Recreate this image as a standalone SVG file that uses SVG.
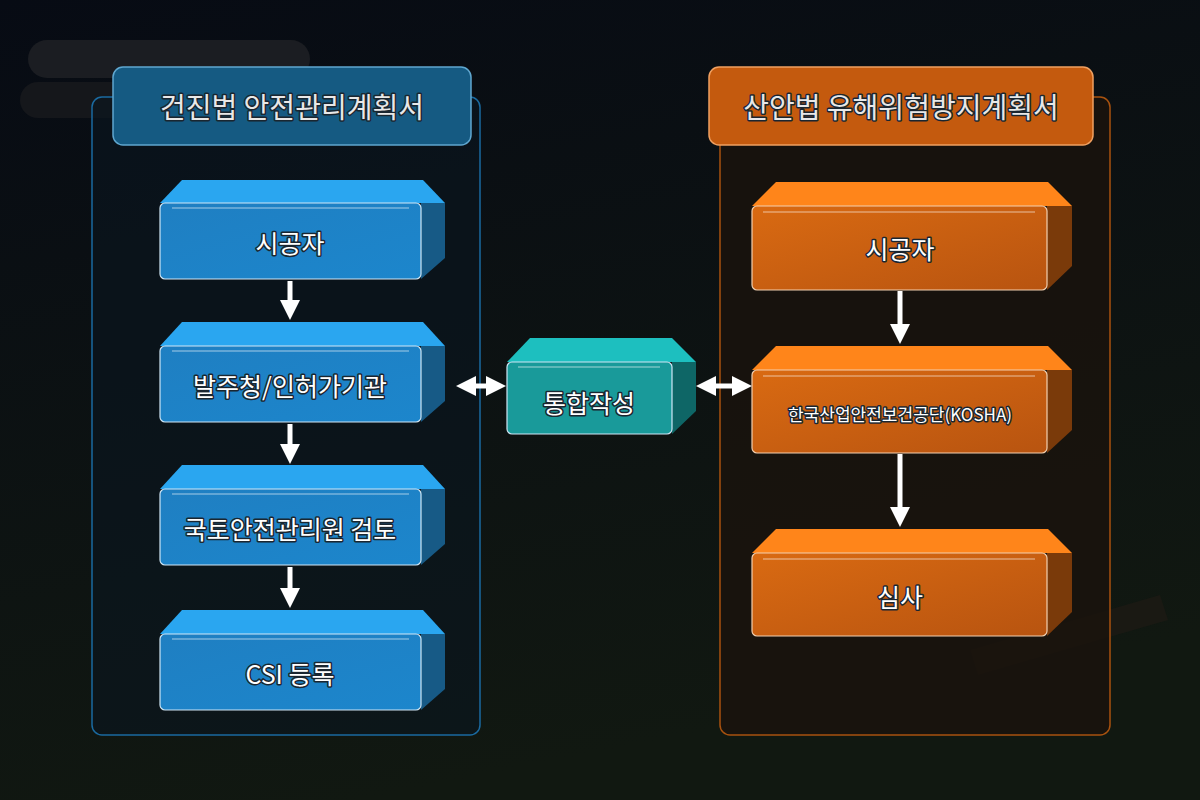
<svg xmlns="http://www.w3.org/2000/svg" width="1200" height="800" viewBox="0 0 1200 800">
<defs>
<linearGradient id="bg" x1="0" y1="0" x2="0.3" y2="1"><stop offset="0" stop-color="#070b14"/><stop offset="1" stop-color="#111811"/></linearGradient>
<linearGradient id="bf" x1="0" y1="0" x2="1" y2="1"><stop offset="0" stop-color="#1f7fc2"/><stop offset="1" stop-color="#1c86cc"/></linearGradient>
<linearGradient id="of" x1="0" y1="0" x2="1" y2="1"><stop offset="0" stop-color="#d96a12"/><stop offset="1" stop-color="#b85410"/></linearGradient>
<marker id="ah" markerWidth="4" markerHeight="4" refX="2" refY="2" orient="auto-start-reverse" markerUnits="strokeWidth"><path d="M0,0 L4,2 L0,4 Z" fill="#fff"/></marker>
</defs>
<style>
text{font-family:"Noto Sans CJK KR","Noto Sans",sans-serif;fill:#fff;text-anchor:middle;dominant-baseline:central;paint-order:stroke;stroke:#1a2630;stroke-width:3px;stroke-linejoin:round}
.hd{font-size:28px;fill:#e8e8e8}
.nd{font-size:25px}
.sm{font-size:17px}
.fr{stroke:#cfe6f5;stroke-width:1.2}
.btop{fill:#2aa6f0}.bside{fill:#175a86}
.otop{fill:#ff851a}.oside{fill:#7a3a0a}
.ttop{fill:#1dbfbf}.tside{fill:#0e6666}
.ln{stroke:#ffffff;stroke-width:1.2;opacity:0.6}
.con{stroke:#fff;stroke-width:5;fill:none}
</style>
<rect width="1200" height="800" fill="url(#bg)"/>
<rect x="28" y="40" width="282" height="38" rx="19" fill="#1b1d22"/>
<rect x="20" y="82" width="290" height="36" rx="18" fill="#15171b"/>
<polygon points="970,650 1160,595 1168,620 978,675" fill="#1d1a14" opacity="0.8"/>
<g id="panel-left">
<rect x="92" y="97" width="388" height="638" rx="10" fill="#0a1520" fill-opacity="0.6" stroke="#1a6aa0" stroke-width="1.5"/>
<rect x="113" y="67" width="358" height="78" rx="10" fill="#155a82" stroke="#5fa7d0" stroke-width="1.5"/>
<text class="hd" x="292" y="106">건진법 안전관리계획서</text>
</g>
<g id="panel-right">
<rect x="720" y="97" width="390" height="638" rx="10" fill="#1a130c" fill-opacity="0.8" stroke="#a8520f" stroke-width="1.5"/>
<rect x="709" y="67" width="384" height="78" rx="10" fill="#c45a0e" stroke="#f0a060" stroke-width="1.5"/>
<text class="hd" x="901" y="106">산안법 유해위험방지계획서</text>
</g>
<g id="connectors">
<line class="con" x1="290" y1="281" x2="290" y2="310" marker-end="url(#ah)"/>
<line class="con" x1="290" y1="424" x2="290" y2="454" marker-end="url(#ah)"/>
<line class="con" x1="290" y1="567" x2="290" y2="598" marker-end="url(#ah)"/>
<line class="con" x1="900" y1="291" x2="900" y2="334" marker-end="url(#ah)"/>
<line class="con" x1="900" y1="454" x2="900" y2="517" marker-end="url(#ah)"/>
<line class="con" x1="466" y1="386" x2="496" y2="386" marker-start="url(#ah)" marker-end="url(#ah)"/>
<line class="con" x1="706" y1="386" x2="742" y2="386" marker-start="url(#ah)" marker-end="url(#ah)"/>
</g>
<g id="n1">
<polygon class="btop" points="160,203 182,180 423,180 445,203 421,203"/>
<polygon class="bside" points="421,203 445,203 445,258 421,279"/>
<rect class="fr" x="160" y="203" width="261" height="76" rx="5" fill="url(#bf)"/>
<line class="ln" x1="172" y1="208" x2="409" y2="208"/>
<text class="nd" x="290" y="242">시공자</text>
</g>
<g id="n2">
<polygon class="btop" points="160,346 182,322 423,322 445,346 421,346"/>
<polygon class="bside" points="421,346 445,346 445,401 421,422"/>
<rect class="fr" x="160" y="346" width="261" height="76" rx="5" fill="url(#bf)"/>
<line class="ln" x1="172" y1="351" x2="409" y2="351"/>
<text class="nd" x="290" y="385">발주청/인허가기관</text>
</g>
<g id="n3">
<polygon class="btop" points="160,489 182,465 423,465 445,489 421,489"/>
<polygon class="bside" points="421,489 445,489 445,544 421,565"/>
<rect class="fr" x="160" y="489" width="261" height="76" rx="5" fill="url(#bf)"/>
<line class="ln" x1="172" y1="494" x2="409" y2="494"/>
<text class="nd" x="290" y="528">국토안전관리원 검토</text>
</g>
<g id="n4">
<polygon class="btop" points="160,634 182,610 423,610 445,634 421,634"/>
<polygon class="bside" points="421,634 445,634 445,689 421,710"/>
<rect class="fr" x="160" y="634" width="261" height="76" rx="5" fill="url(#bf)"/>
<line class="ln" x1="172" y1="639" x2="409" y2="639"/>
<text class="nd" x="290" y="673">CSI 등록</text>
</g>
<g id="mid">
<polygon class="ttop" points="507,362 530,338 672,338 696,362 672,362"/>
<polygon class="tside" points="672,362 696,362 696,411 672,434"/>
<rect class="fr" x="507" y="362" width="165" height="72" rx="5" fill="#199a9a"/>
<line class="ln" x1="518" y1="367" x2="660" y2="367"/>
<text class="nd" x="589" y="402">통합작성</text>
</g>
<g id="r1">
<polygon class="otop" points="752,206 776,182 1048,182 1072,206 1047,206"/>
<polygon class="oside" points="1047,206 1072,206 1072,266 1047,290"/>
<rect x="752" y="206" width="295" height="84" rx="5" fill="url(#of)" stroke="#f3d0b0" stroke-width="1.2"/>
<line class="ln" x1="763" y1="212" x2="1035" y2="212"/>
<text class="nd" x="900" y="248">시공자</text>
</g>
<g id="r2">
<polygon class="otop" points="752,370 776,346 1048,346 1072,370 1047,370"/>
<polygon class="oside" points="1047,370 1072,370 1072,430 1047,453"/>
<rect x="752" y="370" width="295" height="83" rx="5" fill="url(#of)" stroke="#f3d0b0" stroke-width="1.2"/>
<line class="ln" x1="763" y1="376" x2="1035" y2="376"/>
<text class="sm" x="900" y="413">한국산업안전보건공단(KOSHA)</text>
</g>
<g id="r3">
<polygon class="otop" points="752,553 776,529 1048,529 1072,553 1047,553"/>
<polygon class="oside" points="1047,553 1072,553 1072,612 1047,636"/>
<rect x="752" y="553" width="295" height="83" rx="5" fill="url(#of)" stroke="#f3d0b0" stroke-width="1.2"/>
<line class="ln" x1="763" y1="559" x2="1035" y2="559"/>
<text class="nd" x="900" y="596">심사</text>
</g>
</svg>
